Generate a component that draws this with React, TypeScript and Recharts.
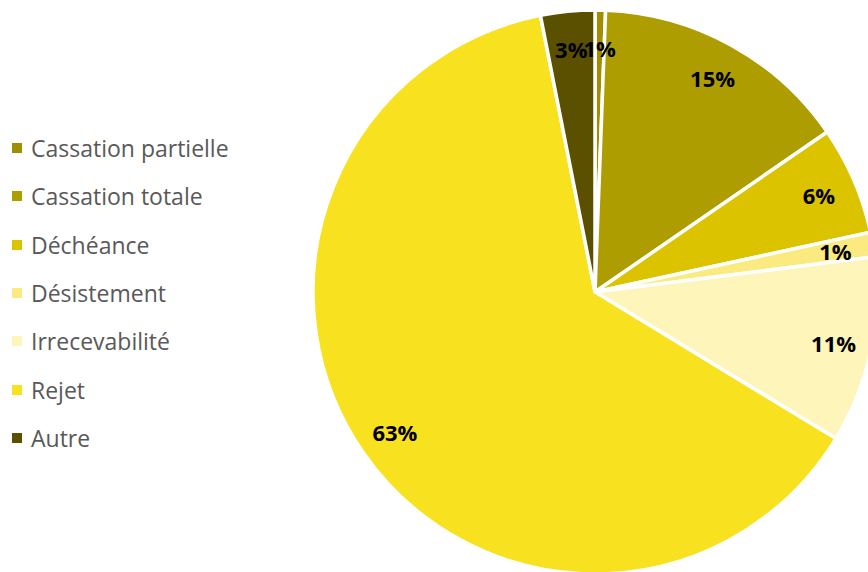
import React from 'react';
import { PieChart, Pie, Cell, Legend } from 'recharts';

const categories = [
  'Cassation partielle',
  'Cassation totale',
  'Déchéance',
  'Désistement',
  'Irrecevabilité',
  'Rejet',
  'Autre',
];
const shares = [0.6, 14.8, 6.2, 1.4, 10.7, 63.2, 3.1];
const sliceColors = ['#9E8E00', '#AE9D00', '#DBC300', '#FBEA80', '#FEF5BB', '#F8E11F', '#5B4F00'];

const data = categories.map((name, i) => ({ name, value: shares[i] }));

const RAD = Math.PI / 180;

const renderLabel = (props: any) => {
  const { cx, cy, midAngle, percent } = props;
  const r = 244;
  const x = cx + r * Math.cos(-midAngle * RAD);
  const y = cy + r * Math.sin(-midAngle * RAD);
  return (
    <text
      x={x}
      y={y}
      textAnchor="middle"
      dominantBaseline="central"
      fill="#000"
      style={{ fontFamily: '"Open Sans", sans-serif', fontSize: 22, fontWeight: 700 }}
    >
      {`${Math.round(percent * 100)}%`}
    </text>
  );
};

const renderLegend = () => (
  <div style={{ fontFamily: '"Open Sans", sans-serif', fontSize: 23, color: '#595959' }}>
    {data.map((d, i) => (
      <div key={d.name} style={{ display: 'flex', alignItems: 'center', height: 48.3 }}>
        <span
          style={{
            display: 'inline-block',
            width: 10,
            height: 10,
            background: sliceColors[i],
            marginRight: 9,
          }}
        />
        <span>{d.name}</span>
      </div>
    ))}
  </div>
);

export default function App() {
  return (
    <div style={{ position: 'absolute', left: 0, top: 0, width: 868, height: 572, background: '#fff' }}>
      <PieChart width={868} height={572} margin={{ top: 0, right: 0, bottom: 0, left: 0 }}>
        <Pie
          data={data}
          dataKey="value"
          nameKey="name"
          cx={595}
          cy={292}
          outerRadius={282}
          startAngle={90}
          endAngle={-270}
          stroke="#fff"
          strokeWidth={3.5}
          label={renderLabel}
          labelLine={false}
          isAnimationActive={false}
        >
          {data.map((d, i) => (
            <Cell key={d.name} fill={sliceColors[i]} />
          ))}
        </Pie>
        <Legend
          content={renderLegend}
          layout="vertical"
          wrapperStyle={{ position: 'absolute', left: 12, top: 124, width: 280 }}
        />
      </PieChart>
    </div>
  );
}
